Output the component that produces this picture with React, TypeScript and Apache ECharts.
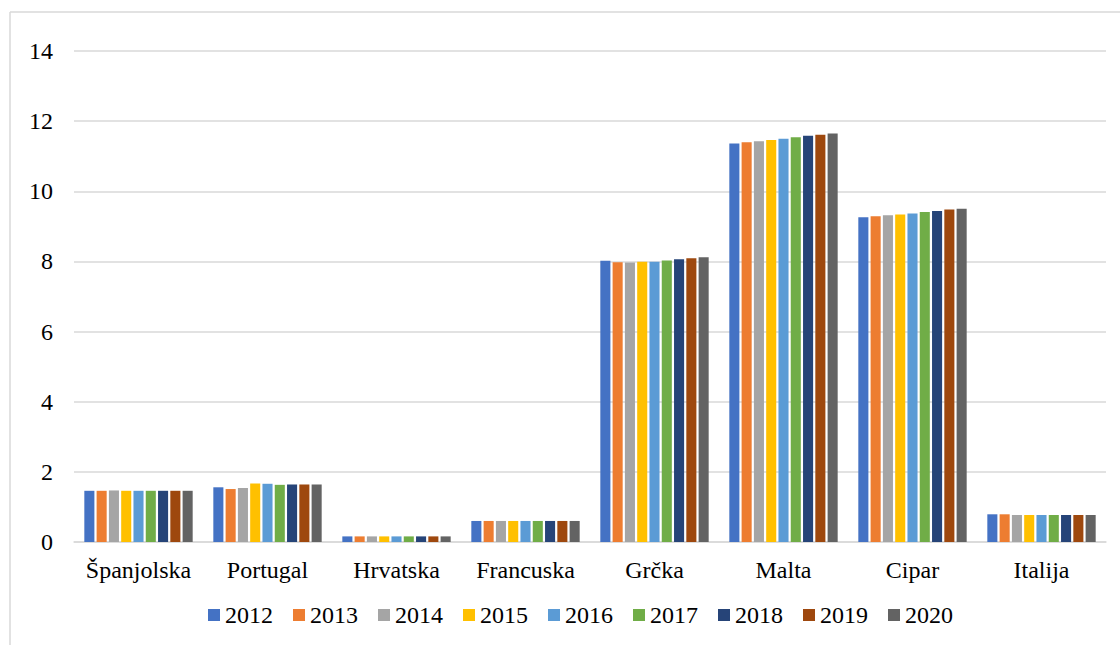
import React, { useEffect, useRef } from "react";
import * as echarts from "echarts";

const countries = ["Španjolska", "Portugal", "Hrvatska", "Francuska", "Grčka", "Malta", "Cipar", "Italija"];
const years = ["2012", "2013", "2014", "2015", "2016", "2017", "2018", "2019", "2020"];
const colors = ["#4472C4", "#ED7D31", "#A5A5A5", "#FFC000", "#5B9BD5", "#70AD47", "#264478", "#9E480E", "#636363"];

// values per year, in country order
const v2012 = [1.46, 1.56, 0.16, 0.6, 8.02, 11.36, 9.26, 0.79];
const v2013 = [1.46, 1.51, 0.16, 0.6, 7.98, 11.4, 9.29, 0.79];
const v2014 = [1.47, 1.54, 0.16, 0.6, 7.97, 11.43, 9.32, 0.77];
const v2015 = [1.46, 1.67, 0.16, 0.6, 7.99, 11.46, 9.34, 0.77];
const v2016 = [1.46, 1.66, 0.16, 0.6, 7.99, 11.5, 9.37, 0.77];
const v2017 = [1.46, 1.63, 0.16, 0.6, 8.03, 11.54, 9.41, 0.77];
const v2018 = [1.46, 1.64, 0.16, 0.6, 8.06, 11.58, 9.44, 0.77];
const v2019 = [1.46, 1.64, 0.16, 0.6, 8.09, 11.61, 9.48, 0.77];
const v2020 = [1.46, 1.64, 0.16, 0.6, 8.12, 11.65, 9.5, 0.77];
const seriesValues = [v2012, v2013, v2014, v2015, v2016, v2017, v2018, v2019, v2020];

const FONT = "Liberation Serif";

export default function App() {
  const ref = useRef<HTMLDivElement>(null);
  useEffect(() => {
    if (!ref.current) return;
    const chart = echarts.init(ref.current, null, { renderer: "svg" });
    chart.setOption({
      animation: false,
      backgroundColor: "#ffffff",
      textStyle: { fontFamily: FONT },
      graphic: [
        { type: "line", shape: { x1: 10, y1: 12, x2: 1120, y2: 12 }, style: { stroke: "#d9d9d9", lineWidth: 1.5 } },
        { type: "line", shape: { x1: 10, y1: 12, x2: 10, y2: 645 }, style: { stroke: "#d9d9d9", lineWidth: 1.5 } },
      ],
      grid: { left: 74, right: 14, top: 51, bottom: 103, containLabel: false },
      legend: {
        left: 203,
        top: 598,
        itemWidth: 12,
        itemHeight: 12,
        itemGap: 20,
        icon: "rect",
        textStyle: { fontFamily: FONT, fontSize: 24, color: "#000" },
        data: years,
      },
      xAxis: {
        type: "category",
        data: countries,
        axisLine: { show: true, lineStyle: { color: "#d9d9d9", width: 1.5 } },
        axisTick: { show: false },
        axisLabel: { fontFamily: FONT, fontSize: 24, color: "#000", margin: 16, interval: 0 },
      },
      yAxis: {
        type: "value",
        min: 0,
        max: 14,
        interval: 2,
        axisLine: { show: false },
        axisTick: { show: false },
        splitLine: { lineStyle: { color: "#d9d9d9", width: 1.5 } },
        axisLabel: { fontFamily: FONT, fontSize: 24, color: "#000", margin: 21 },
      },
      series: years.map((y, i) => ({
        name: y,
        type: "bar",
        data: seriesValues[i],
        barGap: "22%",
        barCategoryGap: "16%",
        itemStyle: { color: colors[i] },
      })),
    });
    return () => chart.dispose();
  }, []);
  return <div ref={ref} style={{ position: "absolute", left: 0, top: 0, width: 1120, height: 645 }} />;
}
